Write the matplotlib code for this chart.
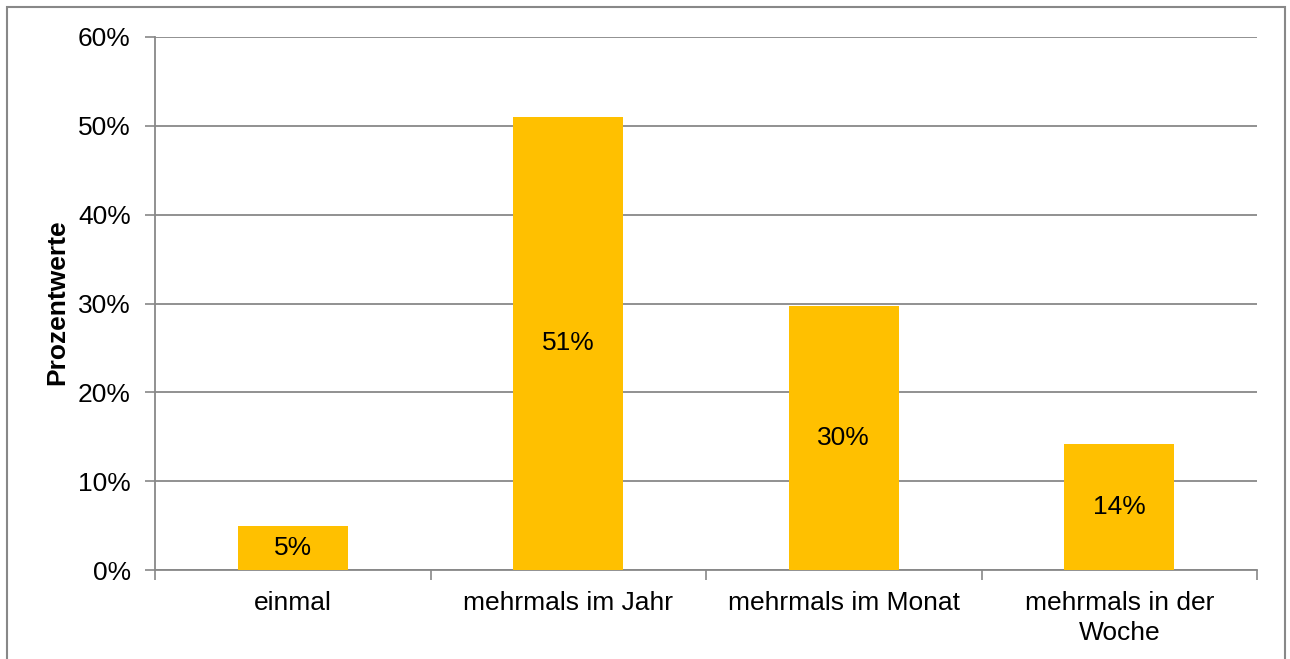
import matplotlib
matplotlib.use("Agg")
import matplotlib.pyplot as plt
from matplotlib.patches import Rectangle
from matplotlib.ticker import FixedLocator, PercentFormatter

categories = ["einmal", "mehrmals im Jahr", "mehrmals im Monat", "mehrmals in der\nWoche"]
values = [5.0, 51.0, 29.7, 14.2]
y_ticks = [0, 10, 20, 30, 40, 50, 60]

plt.rcParams['font.family'] = ['Liberation Sans', 'DejaVu Sans']
W, H = 1290, 659
FS = 19
fig = plt.figure(figsize=(W / 100, H / 100), dpi=100)
ax = fig.add_axes([155 / W, 89 / H, (1257 - 155) / W, (570 - 37) / H])

grey = "#888888"
x = list(range(len(categories)))
ax.bar(x, values, width=0.4, color="#FFC000", zorder=3)
for xi, v in zip(x, values):
    ax.text(xi, v / 2, f"{v:.0f}%", ha="center", va="center", fontsize=FS, color="black", zorder=4)

ax.set_xlim(-0.5, len(categories) - 0.5)
ax.set_ylim(0, 60)
ax.set_yticks(y_ticks)
ax.yaxis.set_major_formatter(PercentFormatter(decimals=0))
ax.set_xticks(x)
ax.set_xticklabels(categories, linespacing=1.3)
ax.xaxis.set_minor_locator(FixedLocator([i - 0.5 for i in range(len(categories) + 1)]))
ax.tick_params(axis="x", which="major", length=0, pad=15, labelsize=FS)
ax.tick_params(axis="x", which="minor", length=7, width=1.2, color=grey, direction="out")
ax.tick_params(axis="y", length=7, width=1.2, color=grey, pad=10.5, labelsize=FS)

ax.grid(axis="y", color=grey, linewidth=1.3, zorder=0)
for s in ["top", "right"]:
    ax.spines[s].set_visible(False)
for s in ["left", "bottom"]:
    ax.spines[s].set_color(grey)
    ax.spines[s].set_linewidth(1.3)

fig.text(57 / W, 1 - 302 / H, "Prozentwerte", rotation=90, ha="center", va="center",
         fontsize=FS, fontweight="bold")

fig.patches.append(Rectangle((7 / W, -0.02), (1285 - 7) / W, (H - 7) / H + 0.02,
                             transform=fig.transFigure, fill=False, edgecolor=grey,
                             linewidth=1.5, clip_on=False))

fig.savefig("out.png", dpi=100, facecolor="white")
